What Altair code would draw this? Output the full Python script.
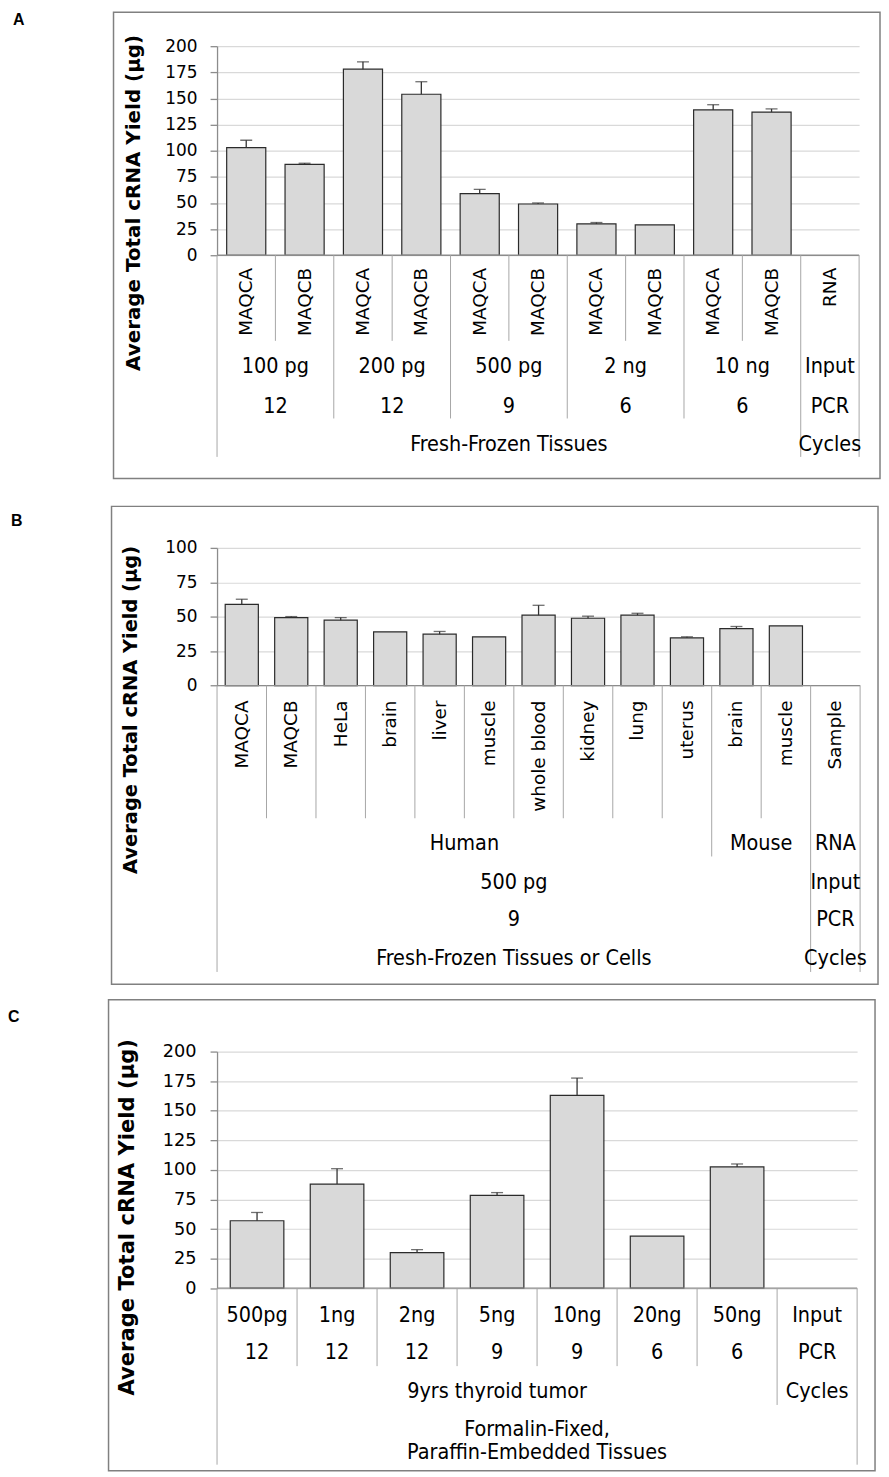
import altair as alt
import pandas as pd

# ---------------- data ----------------
# Panel A
A_L1 = ["MAQCA", "MAQCB", "MAQCA", "MAQCB", "MAQCA", "MAQCB",
        "MAQCA", "MAQCB", "MAQCA", "MAQCB", "RNA"]
A_values = [103, 87, 178, 154, 59, 49, 30, 29, 139, 137]
A_err = [7, 1, 7, 12, 4, 1, 1.3, 0, 5, 3]
A_L2 = ["100 pg", "200 pg", "500 pg", "2 ng", "10 ng", "Input"]
A_L2_span = [2, 2, 2, 2, 2, 1]
A_L3 = ["12", "12", "9", "6", "6", "PCR"]
A_L3_span = [2, 2, 2, 2, 2, 1]
A_L4 = ["Fresh-Frozen Tissues", "Cycles"]
A_L4_span = [10, 1]
A_ticks = [0, 25, 50, 75, 100, 125, 150, 175, 200]

# Panel B
B_L1 = ["MAQCA", "MAQCB", "HeLa", "brain", "liver", "muscle", "whole blood",
        "kidney", "lung", "uterus", "brain", "muscle", "Sample"]
B_values = [59, 49.4, 47.5, 39, 37.3, 35.4, 51.1, 48.9, 51.1, 34.7, 41.4, 43.4]
B_err = [3.7, 0.7, 1.9, 0, 2, 0, 7.2, 1.5, 1.4, 0.7, 1.5, 0]
B_L2 = ["Human", "Mouse", "RNA"]
B_L2_span = [10, 2, 1]
B_L3 = ["500 pg", "Input"]
B_L3_span = [12, 1]
B_L4 = ["9", "PCR"]
B_L4_span = [12, 1]
B_L5 = ["Fresh-Frozen Tissues or Cells", "Cycles"]
B_L5_span = [12, 1]
B_ticks = [0, 25, 50, 75, 100]

# Panel C
C_L1 = ["500pg", "1ng", "2ng", "5ng", "10ng", "20ng", "50ng", "Input"]
C_values = [57, 88, 30, 78.5, 163, 44, 102.5]
C_err = [7, 13, 2.6, 2.3, 14.6, 0, 2.5]
C_L2 = ["12", "12", "12", "9", "9", "6", "6", "PCR"]
C_L2_span = [1, 1, 1, 1, 1, 1, 1, 1]
C_L3 = ["9yrs thyroid tumor", "Cycles"]
C_L3_span = [7, 1]
C_L4 = ["Formalin-Fixed,\nParaffin-Embedded Tissues"]
C_L4_span = [8]
C_ticks = [0, 25, 50, 75, 100, 125, 150, 175, 200]

Y_TITLE = "Average Total cRNA Yield (µg)"

# ---------------- styles ----------------
TICK_FONT = "DejaVu Sans"
ROT_FONT = "DejaVu Sans"
LVL_FONT = "DejaVu Sans Condensed, Liberation Sans, sans-serif"
SEP_COLOR = "#a6a6a6"
AXIS_COLOR = "#8c8c8c"
GRID_COLOR = "#d9d9d9"
BOX_COLOR = "#808080"

one = pd.DataFrame({"t": [""]})


def build_panel(letter, L1, values, errs, levels, ticks, P):
    N = len(L1)
    W, H = P["W"], P["H"]
    xs = alt.Scale(domain=list(range(N)), paddingInner=0, paddingOuter=0)

    def X(field, **kw):
        return alt.X(field, scale=xs, axis=None, **kw)

    bars_df = pd.DataFrame({"idx": list(range(len(values))),
                            "value": values, "err": errs})
    bars_df["top"] = bars_df["value"] + bars_df["err"]
    eb = bars_df[bars_df["err"] > 0]

    yscale = alt.Scale(domain=[0, ticks[-1]], nice=False)
    yaxis = alt.Axis(values=ticks, grid=True, gridColor=GRID_COLOR, gridWidth=1.2,
                     domainColor=AXIS_COLOR, domainWidth=1.3, tickColor=AXIS_COLOR,
                     tickWidth=1.3, tickSize=7, labelFont=TICK_FONT,
                     labelFontSize=P["tick_fs"], labelColor="black",
                     labelPadding=P["lab_pad"], title=Y_TITLE, titleFont="DejaVu Sans",
                     titleFontWeight="bold", titleFontSize=P["title_fs"],
                     titleColor="black", titleAngle=270, titleAlign="center",
                     titleBaseline="middle", titleX=P["title_x"], titleY=P["title_y"])

    def Y(field):
        return alt.Y(field, scale=yscale, axis=yaxis, title=Y_TITLE)

    layers = []
    bx = P["box"]
    layers.append(alt.Chart(one).mark_rect(fill="white", fillOpacity=0,
                                           stroke=BOX_COLOR, strokeWidth=1.5).encode(
        x=alt.value(bx[0]), x2=alt.value(bx[1]), y=alt.value(bx[2]), y2=alt.value(bx[3])))

    layers.append(alt.Chart(bars_df).mark_bar(
        width=alt.RelativeBandSize(0.67), fill="#d9d9d9", stroke="#2b2b2b",
        strokeWidth=1.2).encode(x=X("idx:O"), y=Y("value:Q")))
    layers.append(alt.Chart(eb).mark_rule(color="#333333", strokeWidth=1.3).encode(
        x=X("idx:O"), y=Y("value:Q"), y2="top:Q"))
    layers.append(alt.Chart(eb).mark_tick(color="#333333", size=12, thickness=1.3,
                                          orient="horizontal").encode(
        x=X("idx:O"), y=Y("top:Q")))

    # category axis baseline
    layers.append(alt.Chart(one).mark_rule(color=AXIS_COLOR, strokeWidth=1.3).encode(
        x=alt.value(0), x2=alt.value(W), y=alt.value(H)))

    # hierarchy: level 0 is one group per column
    all_levels = [(L1, [1] * N)] + levels
    starts_per_level = []
    for labels, spans in all_levels:
        st, s = [], 0
        for sp in spans:
            st.append(s)
            s += sp
        starts_per_level.append(st)
    depth_of = {}
    for k in range(N + 1):
        d = 0
        for li, st in enumerate(starts_per_level):
            if k in st or k == N:
                d = li
        depth_of[k] = d
    bottoms = P["bottoms"]
    for d in sorted(set(depth_of.values())):
        ks = [k for k in range(N) if depth_of[k] == d]
        if ks:
            layers.append(alt.Chart(pd.DataFrame({"k": ks})).mark_rule(
                color=SEP_COLOR, strokeWidth=1).encode(
                x=X("k:O", bandPosition=0), y=alt.value(H), y2=alt.value(bottoms[d])))
    # right edge
    layers.append(alt.Chart(pd.DataFrame({"k": [N - 1]})).mark_rule(
        color=SEP_COLOR, strokeWidth=1).encode(
        x=X("k:O", bandPosition=1), y=alt.value(H), y2=alt.value(bottoms[depth_of[N]])))

    # level 0 labels
    l0 = pd.DataFrame({"idx": list(range(N)), "label": L1})
    if P["rot"]:
        layers.append(alt.Chart(l0).mark_text(
            angle=270, align="right", baseline="middle", font=ROT_FONT,
            fontSize=P["rot_fs"], color="black").encode(
            x=X("idx:O"), y=alt.value(P["l0_y"]), text="label:N"))
    else:
        layers.append(alt.Chart(l0).mark_text(
            align="center", baseline="middle", font=LVL_FONT,
            fontSize=P["lvl_fs"], color="black").encode(
            x=X("idx:O"), y=alt.value(P["l0_y"]), text="label:N"))

    # upper levels: label anchored on the middle of its span of columns
    for li, (labels, spans) in enumerate(levels, start=1):
        st = starts_per_level[li]
        df = pd.DataFrame({"anchor": [s + sp // 2 for s, sp in zip(st, spans)],
                           "even": [sp % 2 == 0 for sp in spans],
                           "label": labels})
        for even in (True, False):
            sub = df[df["even"] == even]
            if len(sub) == 0:
                continue
            layers.append(alt.Chart(sub).mark_text(
                align="center", baseline="middle", font=LVL_FONT,
                fontSize=P["lvl_fs"], color="black", lineBreak="\n",
                lineHeight=23).encode(
                x=X("anchor:O", bandPosition=0 if even else 0.5),
                y=alt.value(P["lvl_y"][li - 1]), text="label:N"))

    # panel letter
    layers.append(alt.Chart(pd.DataFrame({"t": [letter]})).mark_text(
        align="left", baseline="middle", font="Liberation Sans", fontWeight="bold",
        fontSize=16, color="black").encode(
        x=alt.value(P["letter_x"]), y=alt.value(P["letter_y"]), text="t:N"))

    return alt.layer(*layers).properties(width=W, height=H)


PA = dict(W=645, H=210, box=(-104, 666, -34, 434.3), letter_x=-205, letter_y=-26,
          title_x=-84, title_y=157, title_fs=20, tick_fs=17, lab_pad=13,
          rot=True, rot_fs=18.5, lvl_fs=21.5, l0_y=222.6,
          lvl_y=[322, 362.6, 400.5], bottoms=[296, 340, 374, 412.6])
PB = dict(W=646, H=138.3, box=(-106, 664, -41.7, 438.3), letter_x=-207, letter_y=-26.7,
          title_x=-87, title_y=162.3, title_fs=19.5, tick_fs=17, lab_pad=13,
          rot=True, rot_fs=18.5, lvl_fs=21.5, l0_y=153.3,
          lvl_y=[297.6, 336.6, 374, 412.6], bottoms=[271.6, 310, 350, 388, 426])
PC = dict(W=643, H=237.7, box=(-109, 661, -52, 421), letter_x=-210, letter_y=-35,
          title_x=-90, title_y=166, title_fs=21.2, tick_fs=17.8, lab_pad=14,
          rot=False, rot_fs=18.5, lvl_fs=21.5, l0_y=266,
          lvl_y=[303.3, 341.7, 380], bottoms=[291, 316, 355, 415])

panelA = build_panel("A", A_L1, A_values, A_err,
                     [(A_L2, A_L2_span), (A_L3, A_L3_span), (A_L4, A_L4_span)],
                     A_ticks, PA)
panelB = build_panel("B", B_L1, B_values, B_err,
                     [(B_L2, B_L2_span), (B_L3, B_L3_span), (B_L4, B_L4_span),
                      (B_L5, B_L5_span)], B_ticks, PB)
panelC = build_panel("C", C_L1, C_values, C_err,
                     [(C_L2, C_L2_span), (C_L3, C_L3_span), (C_L4, C_L4_span)],
                     C_ticks, PC)

chart = alt.vconcat(panelA, alt.vconcat(panelB, panelC, spacing=13), spacing=25) \
    .properties(padding=0) \
    .configure_view(stroke=None)

chart.save("out.html", embed_options={"renderer": "svg", "actions": False})
